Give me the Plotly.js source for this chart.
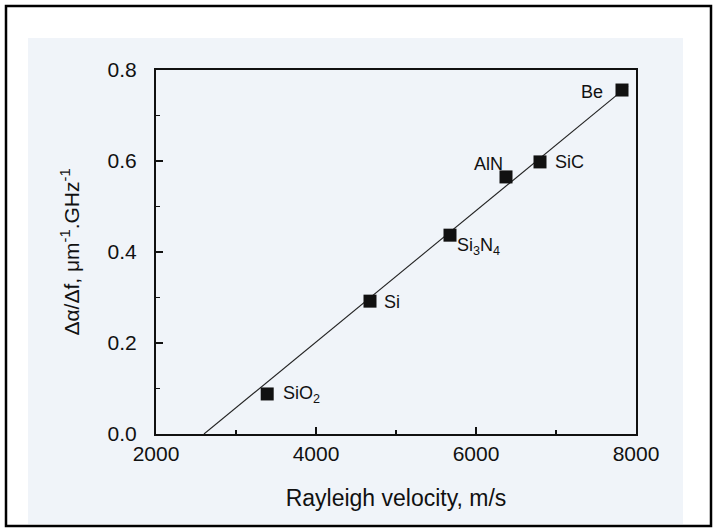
<!DOCTYPE html>
<html>
<head>
<meta charset="utf-8">
<script src="https://cdn.plot.ly/plotly-3.0.1.min.js"></script>
<style>
html,body{margin:0;padding:0;background:#ffffff;}
#chart{width:716px;height:531px;}
</style>
</head>
<body>
<div id="chart"></div>
<script>
// Data
const materials = ["SiO<sub>2</sub>", "Si", "Si<sub>3</sub>N<sub>4</sub>", "AlN", "SiC", "Be"];
const velocity = [3390, 4675, 5675, 6375, 6800, 7825];
const attenuation = [0.088, 0.292, 0.437, 0.565, 0.598, 0.756];
const fitVelocity = [2600, 7900];
const fitAttenuation = [0.0, 0.765];

// label placement (style only)
const labelAnchor = ["left", "left", "left", "right", "left", "right"];
const labelDx = [14, 12, 5, -1, 13, -17];
const labelDy = [-1, -1, -11, 13, 0, -2];

const font = "Liberation Sans, Arial, sans-serif";

const traces = [
  {x: fitVelocity, y: fitAttenuation, mode: "lines", line: {color: "#222", width: 1.1}, hoverinfo: "skip", showlegend: false},
  {x: velocity, y: attenuation, mode: "markers", marker: {symbol: "square", size: 13, color: "#111"}, showlegend: false}
];

const annotations = materials.map((m, i) => ({
  x: velocity[i], y: attenuation[i], xref: "x", yref: "y", text: m, showarrow: false,
  xanchor: labelAnchor[i], yanchor: "middle", xshift: labelDx[i], yshift: labelDy[i],
  font: {family: font, size: 18, color: "#111"}
}));

const W = 480, H = 364, L = 156, T = 70;
function px(v){return (v - L) / W;}
function py(v){return (T + H - v) / H;}

const layout = {
  width: 716, height: 531,
  margin: {l: L, r: 716 - L - W, t: T, b: 531 - T - H, pad: 0},
  paper_bgcolor: "#ffffff",
  plot_bgcolor: "rgba(0,0,0,0)",
  font: {family: font, color: "#111"},
  xaxis: {
    range: [2000, 8000], tickvals: [2000, 4000, 6000, 8000], ticktext: ["2000", "4000", "6000", "8000"],
    ticks: "inside", ticklen: 7, tickwidth: 1.3, tickcolor: "#111",
    minor: {tickvals: [3000, 5000, 7000], ticks: "inside", ticklen: 4, tickwidth: 1.3, tickcolor: "#111"},
    showline: true, linecolor: "#111", linewidth: 2, mirror: true, showgrid: false, zeroline: false,
    tickfont: {family: font, size: 21, color: "#111"},
    title: {text: "Rayleigh velocity, m/s", font: {family: font, size: 23, color: "#111"}, standoff: 26}
  },
  yaxis: {
    range: [0, 0.8], tickvals: [0, 0.2, 0.4, 0.6, 0.8], ticktext: ["0.0", "0.2", "0.4", "0.6", "0.8"],
    ticks: "inside", ticklen: 7, tickwidth: 1.3, tickcolor: "#111",
    minor: {tickvals: [0.1, 0.3, 0.5, 0.7], ticks: "inside", ticklen: 4, tickwidth: 1.3, tickcolor: "#111"},
    showline: true, linecolor: "#111", linewidth: 2, mirror: true, showgrid: false, zeroline: false,
    tickfont: {family: font, size: 21, color: "#111"}, ticklabelstandoff: 13,
    title: {text: "Δα/Δf, μm<sup>-1</sup>.GHz<sup>-1</sup>", font: {family: font, size: 21, color: "#111"}, standoff: 22}
  },
  annotations: annotations,
  shapes: [
    {type: "rect", xref: "paper", yref: "paper", x0: px(28), x1: px(683), y0: py(524), y1: py(38),
     fillcolor: "#f0f4f9", line: {width: 0}, layer: "below"},
    {type: "rect", xref: "paper", yref: "paper", x0: px(6), x1: px(711), y0: py(526), y1: py(6),
     fillcolor: "rgba(0,0,0,0)", line: {color: "#000", width: 2.5}, layer: "above"}
  ]
};

Plotly.newPlot("chart", traces, layout, {displayModeBar: false, staticPlot: true});
</script>
</body>
</html>
